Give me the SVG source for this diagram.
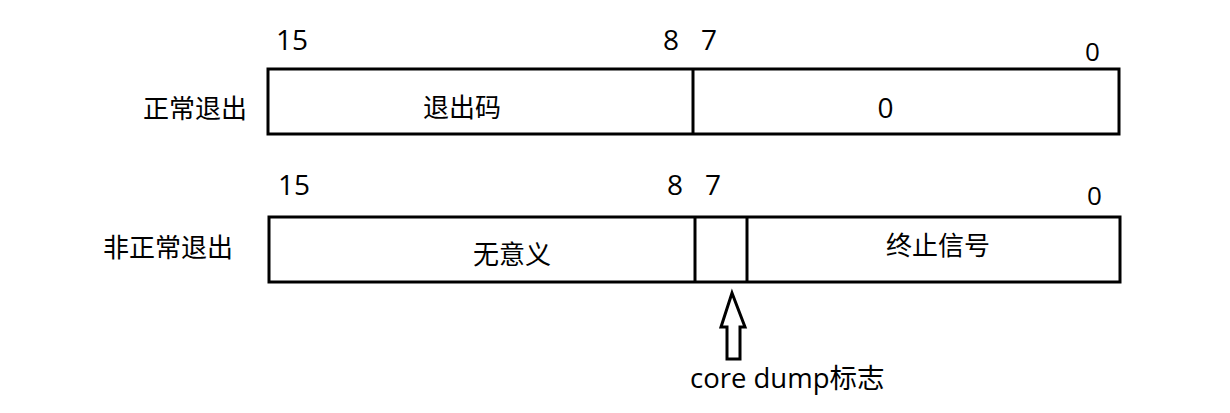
<svg xmlns="http://www.w3.org/2000/svg" width="1230" height="413" viewBox="0 0 1230 413">
<style>
text{font-family:"Open Sans","Noto Sans","Noto Sans CJK SC",sans-serif;font-size:26px;fill:#000}
.num{font-size:28px}
.sm{font-size:26px}
.box{fill:#fff;stroke:#000;stroke-width:3}
.ln{stroke:#000;stroke-width:3}
</style>
<rect width="1230" height="413" fill="#fff"/>
<g id="row1">
<text class="num" x="276" y="50">15</text>
<text class="num" x="663" y="50">8</text>
<text class="num" x="701" y="50">7</text>
<text class="sm" x="1085" y="61">0</text>
<text x="143" y="118">正常退出</text>
<rect class="box" x="268" y="69" width="851" height="65"/>
<line class="ln" x1="693" y1="69" x2="693" y2="134"/>
<text x="462" y="117" text-anchor="middle">退出码</text>
<text class="num" x="885.5" y="118" text-anchor="middle">0</text>
</g>
<g id="row2">
<text class="num" x="278" y="195">15</text>
<text class="num" x="667" y="195">8</text>
<text class="num" x="705" y="195">7</text>
<text class="sm" x="1087" y="205">0</text>
<text x="103" y="257">非正常退出</text>
<rect class="box" x="269" y="217" width="851" height="65"/>
<line class="ln" x1="695" y1="217" x2="695" y2="282"/>
<line class="ln" x1="747" y1="217" x2="747" y2="282"/>
<text x="512" y="264" text-anchor="middle">无意义</text>
<text x="938" y="255" text-anchor="middle">终止信号</text>
</g>
<g id="connectors">
<polygon points="732,293 745,327 740,327 740,359 727,359 727,327 721,327" fill="#fff" stroke="#000" stroke-width="3" stroke-linejoin="miter"/>
</g>
<g id="label">
<text x="690" y="388" style="font-size:27.5px">core dump标志</text>
</g>
</svg>
